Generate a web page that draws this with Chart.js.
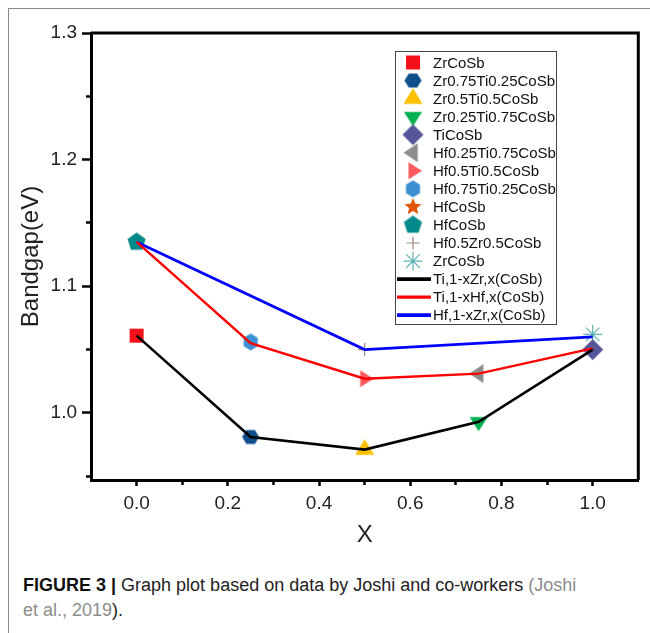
<!DOCTYPE html>
<html>
<head>
<meta charset="utf-8">
<script src="https://cdn.jsdelivr.net/npm/chart.js@4.4.1/dist/chart.umd.min.js"></script>
<style>
  html, body { margin: 0; padding: 0; background: #fff; }
  #wrap { position: relative; width: 650px; height: 633px; overflow: hidden; background: #fff; }
  #frame { position: absolute; left: 8px; top: 8px; width: 660px; height: 640px; border-top: 1px solid #8a8a8a; border-left: 1px solid #8a8a8a; }
  #c { position: absolute; left: 0; top: 0; }
  #cap { position: absolute; left: 23px; top: 573px; width: 620px; font-family: "Liberation Sans", Arial, sans-serif; font-size: 18px; line-height: 25px; color: #222; white-space: nowrap; }
  #cap b { color: #111; }
  #cap .g { color: #8c8c8c; }
</style>
</head>
<body>
<div id="wrap">
  <div id="frame"></div>
  <canvas id="c" width="650" height="560"></canvas>
  <div id="cap"><b>FIGURE 3 |</b> Graph plot based on data by Joshi and co-workers <span class="g">(Joshi<br>et al., 2019</span>).</div>
</div>
<script>
// ---------- data ----------
const xValues      = [0, 0.25, 0.5, 0.75, 1.0];
const tiZrBandgap  = [1.061, 0.981, 0.971, 0.993, 1.050];
const tiHfBandgap  = [1.135, 1.055, 1.027, 1.031, 1.051];
const hfZrX        = [0, 0.5, 1.0];
const hfZrBandgap  = [1.135, 1.050, 1.060];

const compounds = ['ZrCoSb', 'Zr0.75Ti0.25CoSb', 'Zr0.5Ti0.5CoSb', 'Zr0.25Ti0.75CoSb', 'TiCoSb',
                   'Hf0.25Ti0.75CoSb', 'Hf0.5Ti0.5CoSb', 'Hf0.75Ti0.25CoSb', 'HfCoSb', 'HfCoSb',
                   'Hf0.5Zr0.5CoSb', 'ZrCoSb'];
const compoundX        = [0, 0.25, 0.5, 0.75, 1.0, 0.75, 0.5, 0.25, 0, 0, 0.5, 1.0];
const compoundBandgap  = [1.061, 0.981, 0.971, 0.993, 1.050, 1.031, 1.027, 1.056, 1.135, 1.135, 1.050, 1.062];

const lineLabels = ['Ti,1-xZr,x(CoSb)', 'Ti,1-xHf,x(CoSb)', 'Hf,1-xZr,x(CoSb)'];

const xMajorTicks = [0, 0.2, 0.4, 0.6, 0.8, 1.0];
const xMinorTicks = [0.1, 0.3, 0.5, 0.7, 0.9];
const yMajorTicks = [1.0, 1.1, 1.2, 1.3];
const yMinorTicks = [0.95, 1.05, 1.15, 1.25];

// ---------- styles ----------
const markerShapes = ['square', 'hexFlat', 'triUp', 'triDown', 'diamond', 'triLeft', 'triRight', 'hexPointy', 'star5', 'pentagon', 'plus', 'asterisk'];
const markerColors = ['#f5101a', '#0f4f8c', '#ffc000', '#00b050', '#55559a', '#8c8c8c', '#ff5a5f', '#3a8fd2', '#e0570c', '#008a8a', '#a58080', '#5fb3b3'];
const markerSizes  = [14, 17, 20, 19, 21, 19, 18, 17, 18, 19, 13, 19];
const lineColors = ['#000000', '#ff0000', '#0000ff'];
const lineWidths = [2.6, 2.4, 2.8];

function makeMarker(shape, color, size) {
  const pad = 2;
  const c = document.createElement('canvas');
  c.width = c.height = Math.ceil(size + pad * 2);
  const ctx = c.getContext('2d');
  const cx = c.width / 2, cy = c.height / 2, r = size / 2;
  ctx.fillStyle = color;
  ctx.beginPath();
  const poly = (n, rot, rx, ry) => {
    for (let i = 0; i < n; i++) {
      const a = rot + i * 2 * Math.PI / n;
      const px = cx + (rx) * Math.cos(a), py = cy + (ry) * Math.sin(a);
      if (i === 0) ctx.moveTo(px, py); else ctx.lineTo(px, py);
    }
    ctx.closePath();
  };
  switch (shape) {
    case 'square': ctx.rect(cx - r, cy - r, size, size); break;
    case 'hexFlat': poly(6, 0, r, r * 0.95); break;
    case 'hexPointy': poly(6, -Math.PI / 2, r * 0.95, r); break;
    case 'triUp': poly(3, -Math.PI / 2, r * 1.1, r * 1.05); ctx.translate(0, 0); break;
    case 'triDown': poly(3, Math.PI / 2, r * 1.1, r * 1.0); break;
    case 'triLeft': poly(3, Math.PI, r * 1.0, r * 1.15); break;
    case 'triRight': poly(3, 0, r * 1.0, r * 1.1); break;
    case 'diamond': poly(4, 0, r, r); break;
    case 'pentagon': poly(5, -Math.PI / 2, r, r); break;
    case 'star5':
      for (let i = 0; i < 10; i++) {
        const a = -Math.PI / 2 + i * Math.PI / 5;
        const rr = i % 2 === 0 ? r : r * 0.45;
        const px = cx + rr * Math.cos(a), py = cy + rr * Math.sin(a);
        if (i === 0) ctx.moveTo(px, py); else ctx.lineTo(px, py);
      }
      ctx.closePath();
      break;
  }
  ctx.fill();
  return c;
}

const markerStyles = markerShapes.map((s, i) => {
  if (s === 'plus') return 'cross';
  if (s === 'asterisk') return 'star';
  return makeMarker(s, markerColors[i], markerSizes[i]);
});

// ---------- datasets ----------
const markerDatasets = compounds.map((name, i) => ({
  label: name,
  data: [{ x: compoundX[i], y: compoundBandgap[i] }],
  pointStyle: markerStyles[i],
  pointRadius: markerSizes[i] / 2,
  borderColor: markerColors[i],
  backgroundColor: markerColors[i],
  borderWidth: 1.2,
  showLine: false,
  order: markerShapes[i] === 'star5' ? 3 : 2
}));

function pts(xs, ys) { return xs.map((x, i) => ({ x, y: ys[i] })); }
const lineData = [pts(xValues, tiZrBandgap), pts(xValues, tiHfBandgap), pts(hfZrX, hfZrBandgap)];
const lineDatasets = lineLabels.map((name, i) => ({
  label: name,
  data: lineData[i],
  borderColor: lineColors[i],
  backgroundColor: lineColors[i],
  borderWidth: lineWidths[i],
  pointRadius: 0,
  showLine: true,
  fill: false,
  tension: 0,
  order: 0,
  isLine: true
}));

// ---------- plugins ----------
const framePlugin = {
  id: 'frame',
  afterDatasetsDraw(chart) {
    const { ctx, chartArea: a } = chart;
    ctx.save();
    ctx.strokeStyle = '#000';
    ctx.lineWidth = 3;
    ctx.beginPath();
    ctx.moveTo(a.left, a.top);
    ctx.lineTo(a.right, a.top);
    ctx.lineTo(a.right, a.bottom);
    ctx.stroke();
    ctx.restore();
  }
};

const legendPlugin = {
  id: 'customLegend',
  afterDraw(chart) {
    const ctx = chart.ctx;
    const box = { x: 395.5, y: 51.5, w: 161, h: 273 };
    const rowTop = 62.5, rowH = 18.05;
    const mx = 413, tx = 433;
    ctx.save();
    ctx.fillStyle = '#fff';
    ctx.fillRect(box.x, box.y, box.w, box.h);
    ctx.strokeStyle = '#444';
    ctx.lineWidth = 1;
    ctx.strokeRect(box.x, box.y, box.w, box.h);
    ctx.font = '15px "Liberation Sans", Arial, sans-serif';
    ctx.textBaseline = 'middle';
    ctx.textAlign = 'left';
    chart.data.datasets.forEach((ds, i) => {
      const y = rowTop + i * rowH;
      if (ds.isLine) {
        ctx.strokeStyle = ds.borderColor;
        ctx.lineWidth = ds.borderWidth + 1;
        ctx.beginPath();
        ctx.moveTo(397, y);
        ctx.lineTo(431, y);
        ctx.stroke();
      } else if (ds.pointStyle === 'cross' || ds.pointStyle === 'star') {
        const r = ds.pointRadius;
        ctx.strokeStyle = ds.borderColor;
        ctx.lineWidth = 1.2;
        ctx.beginPath();
        ctx.moveTo(mx - r, y); ctx.lineTo(mx + r, y);
        ctx.moveTo(mx, y - r); ctx.lineTo(mx, y + r);
        if (ds.pointStyle === 'star') {
          const d = r * Math.SQRT1_2;
          ctx.moveTo(mx - d, y - d); ctx.lineTo(mx + d, y + d);
          ctx.moveTo(mx - d, y + d); ctx.lineTo(mx + d, y - d);
        }
        ctx.stroke();
      } else {
        const img = ds.pointStyle;
        ctx.drawImage(img, mx - img.width / 2, y - img.height / 2);
      }
      ctx.fillStyle = '#111';
      ctx.fillText(ds.label, tx, y + 1);
    });
    ctx.restore();
  }
};

// ---------- chart ----------
const tickFont = { family: '"Liberation Sans", Arial, sans-serif', size: 19 };
const titleFont = { family: '"Liberation Sans", Arial, sans-serif', size: 24 };
const fixTicks = arr => scale => { scale.ticks = arr.map(v => ({ value: v })); };

new Chart(document.getElementById('c'), {
  type: 'scatter',
  data: { datasets: [...markerDatasets, ...lineDatasets] },
  options: {
    responsive: false,
    animation: false,
    events: [],
    layout: { padding: { left: 0, top: 33, right: 9, bottom: 0 } },
    plugins: { legend: { display: false }, tooltip: { enabled: false } },
    scales: {
      x: {
        type: 'linear', position: 'bottom', min: -0.1, max: 1.1, weight: 0,
        afterBuildTicks: fixTicks(xMajorTicks),
        afterFit: s => { s.height = 80; },
        ticks: { font: tickFont, color: '#222', padding: 6, autoSkip: false, maxRotation: 0,
                 callback: v => Number(v).toFixed(1) },
        grid: { drawOnChartArea: false, tickLength: 6, tickWidth: 2.5, tickColor: '#000' },
        border: { display: true, color: '#000', width: 3 },
        title: { display: true, text: 'X', font: titleFont, color: '#222', padding: { top: 0, bottom: 10 } }
      },
      xMinor: {
        type: 'linear', position: 'bottom', min: -0.1, max: 1.1, weight: -1,
        afterBuildTicks: fixTicks(xMinorTicks),
        afterFit: s => { s.height = 0; },
        ticks: { display: false },
        grid: { drawOnChartArea: false, tickLength: 5, tickWidth: 2.5, tickColor: '#000' },
        border: { display: false }
      },
      y: {
        type: 'linear', position: 'left', min: 0.947, max: 1.3, weight: 0,
        afterBuildTicks: fixTicks(yMajorTicks),
        afterFit: s => { s.width = 91; },
        ticks: { font: tickFont, color: '#222', padding: 5, autoSkip: false,
                 callback: v => Number(v).toFixed(1) },
        grid: { drawOnChartArea: false, tickLength: 9, tickWidth: 2.5, tickColor: '#000' },
        border: { display: true, color: '#000', width: 3 },
        title: { display: true, text: 'Bandgap(eV)', font: titleFont, color: '#222', padding: { top: 17, bottom: 0 } }
      },
      yMinor: {
        type: 'linear', position: 'left', min: 0.947, max: 1.3, weight: -1,
        afterBuildTicks: fixTicks(yMinorTicks),
        afterFit: s => { s.width = 0; },
        ticks: { display: false },
        grid: { drawOnChartArea: false, tickLength: 5, tickWidth: 2.5, tickColor: '#000' },
        border: { display: false }
      }
    }
  },
  plugins: [framePlugin, legendPlugin]
});
</script>
</body>
</html>
